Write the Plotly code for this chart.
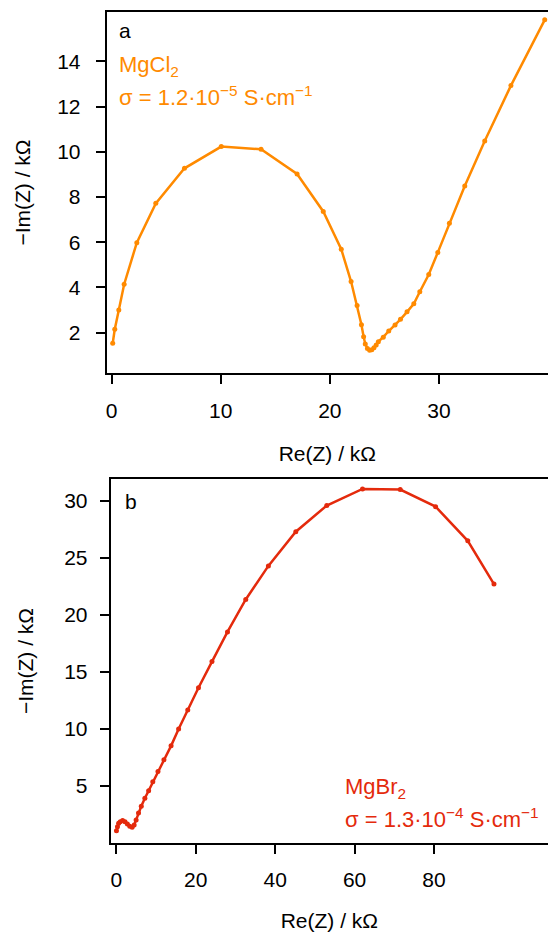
import plotly.graph_objects as go

# ── data ─────────────────────────────────────────────────────────────────────
mgcl2_re = [0.1, 0.29, 0.66, 1.15, 2.31, 4.05, 6.68, 10.05, 13.7, 17.0, 19.4, 21.05,
            21.95, 22.5, 22.9, 23.1, 23.25, 23.45, 23.65, 23.85, 24.05, 24.25, 24.45,
            24.9, 25.4, 25.98, 26.48, 27.08, 27.7, 28.25, 29.07, 29.9, 30.96, 32.37,
            34.2, 36.6, 39.7]
mgcl2_im = [1.53, 2.15, 3.0, 4.14, 5.98, 7.72, 9.27, 10.23, 10.11, 9.02, 7.36, 5.69,
            4.26, 3.2, 2.35, 1.82, 1.5, 1.3, 1.22, 1.24, 1.33, 1.45, 1.6,
            1.8, 2.07, 2.34, 2.59, 2.92, 3.28, 3.81, 4.57, 5.55, 6.84, 8.49,
            10.48, 12.93, 15.84]

mgbr2_re = [0.05, 0.3, 0.6, 1.0, 1.6, 2.2, 2.8, 3.4, 4.0, 4.5, 5.0, 5.6, 6.3, 7.2,
            8.15, 9.2, 10.5, 12.0, 13.8, 15.7, 18.0, 20.7, 24.1, 28.0, 32.6, 38.3,
            45.2, 53.0, 62.0, 71.5, 80.4, 88.5, 95.1]
mgbr2_im = [1.05, 1.4, 1.7, 1.85, 1.95, 1.85, 1.65, 1.45, 1.35, 1.55, 2.0, 2.6, 3.2,
            3.9, 4.56, 5.35, 6.26, 7.28, 8.5, 9.98, 11.65, 13.6, 15.9, 18.5, 21.35,
            24.3, 27.3, 29.6, 31.05, 31.0, 29.5, 26.5, 22.7]

top_xticks = [0, 10, 20, 30]
top_yticks = [2, 4, 6, 8, 10, 12, 14]
bot_xticks = [0, 20, 40, 60, 80]
bot_yticks = [5, 10, 15, 20, 25, 30]

ORANGE = "#ff8a00"
RED = "#e42a0c"
W, H = 548, 932
FONT = "Arial, Liberation Sans, sans-serif"


def fx(p):
    return p / W


def fy(p):
    return 1 - p / H


AXIS = dict(
    showline=True, linecolor="black", linewidth=2,
    ticks="outside", ticklen=9, tickwidth=2, tickcolor="black",
    showgrid=False, zeroline=False,
    tickfont=dict(size=21, color="black", family=FONT),
    title_font=dict(size=21, color="black", family=FONT),
)

fig = go.Figure()
fig.add_trace(go.Scatter(
    x=mgcl2_re, y=mgcl2_im, mode="lines+markers", xaxis="x", yaxis="y",
    line=dict(color=ORANGE, width=2.5), marker=dict(color=ORANGE, size=5),
    showlegend=False,
))
fig.add_trace(go.Scatter(
    x=mgbr2_re, y=mgbr2_im, mode="lines+markers", xaxis="x2", yaxis="y2",
    line=dict(color=RED, width=2.5), marker=dict(color=RED, size=5),
    showlegend=False,
))

fig.update_layout(
    width=W, height=H,
    paper_bgcolor="white", plot_bgcolor="white",
    margin=dict(l=0, r=0, t=0, b=0),
    font=dict(family=FONT, size=21, color="black"),
    xaxis=dict(AXIS, domain=[fx(106.7), 1], range=[-0.45, 40.0], anchor="y",
               tickvals=top_xticks, mirror=True, ticklabelstandoff=8,
               title=dict(text="Re(Z) / kΩ", standoff=26)),
    yaxis=dict(AXIS, domain=[fy(373.3), fy(11.7)], range=[0.2, 16.2], anchor="x",
               tickvals=top_yticks, ticklabelstandoff=11,
               title=dict(text="−Im(Z) / kΩ", standoff=21)),
    xaxis2=dict(AXIS, domain=[fx(110.7), 1], range=[-1.4, 108.7], anchor="y2",
                tickvals=bot_xticks, mirror=True, ticklabelstandoff=8,
                title=dict(text="Re(Z) / kΩ", standoff=26)),
    yaxis2=dict(AXIS, domain=[fy(842.7), fy(479.3)], range=[0, 31.9], anchor="x2",
                tickvals=bot_yticks, ticklabelstandoff=8,
                title=dict(text="−Im(Z) / kΩ", standoff=25)),
)

notes = [
    ("a", 117, 31, "black", 21),
    ("MgCl<sub>2</sub>", 117, 66, ORANGE, 22),
    ("σ = 1.2·10<sup>−5</sup> S·cm<sup>−1</sup>", 117, 96, ORANGE, 22),
    ("b", 123, 501, "black", 21),
    ("MgBr<sub>2</sub>", 343, 788, RED, 22),
    ("σ = 1.3·10<sup>−4</sup> S·cm<sup>−1</sup>", 343, 818, RED, 22),
]
for text, px, py, col, size in notes:
    fig.add_annotation(
        text=text, xref="paper", yref="paper", x=fx(px), y=fy(py),
        xanchor="left", yanchor="middle", showarrow=False,
        font=dict(size=size, color=col, family=FONT),
    )

# drop the browser's default 8px body margin so the figure sits at (0, 0)
fig.write_html("out.html", config={"displayModeBar": False},
               post_script="document.body.style.margin='0';")
